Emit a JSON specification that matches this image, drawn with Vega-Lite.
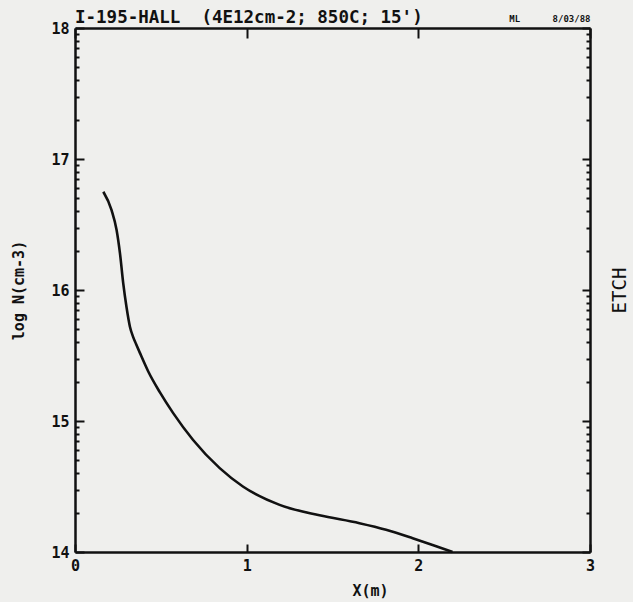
{
  "$schema": "https://vega.github.io/schema/vega-lite/v6.json",
  "width": 515,
  "height": 524,
  "autosize": {"type": "none"},
  "padding": {"left": 75, "top": 28, "right": 43, "bottom": 50},
  "background": "#efefed",
  "title": {
    "text": "I-195-HALL\u00a0\u00a0(4E12cm-2;\u00a0850C;\u00a015')",
    "anchor": "start",
    "frame": "group",
    "font": "DejaVu Sans Mono",
    "fontSize": 17.5,
    "fontWeight": "bold",
    "color": "#111111",
    "offset": -12
  },
  "config": {
    "view": {"stroke": null},
    "axis": {
      "grid": false,
      "domainColor": "#111111",
      "domainWidth": 2.5,
      "tickColor": "#111111",
      "tickWidth": 2,
      "labelColor": "#111111",
      "labelFont": "DejaVu Sans Mono",
      "labelFontWeight": "bold",
      "labelFontSize": 15,
      "titleColor": "#111111",
      "titleFont": "DejaVu Sans Mono",
      "titleFontWeight": "bold",
      "titleFontSize": 15,
      "labelOverlap": false
    }
  },
  "data": {
    "values": [
      {"x": 0.165, "logN": 16.75},
      {"x": 0.213, "logN": 16.61},
      {"x": 0.242, "logN": 16.46},
      {"x": 0.262, "logN": 16.28},
      {"x": 0.281, "logN": 16.05},
      {"x": 0.3, "logN": 15.87},
      {"x": 0.32, "logN": 15.72},
      {"x": 0.339, "logN": 15.64},
      {"x": 0.355, "logN": 15.59},
      {"x": 0.378, "logN": 15.52},
      {"x": 0.426, "logN": 15.38},
      {"x": 0.494, "logN": 15.22},
      {"x": 0.572, "logN": 15.06},
      {"x": 0.688, "logN": 14.855},
      {"x": 0.843, "logN": 14.64},
      {"x": 0.978, "logN": 14.5},
      {"x": 1.192, "logN": 14.36},
      {"x": 1.424, "logN": 14.28},
      {"x": 1.657, "logN": 14.22},
      {"x": 1.812, "logN": 14.17},
      {"x": 1.967, "logN": 14.105},
      {"x": 2.083, "logN": 14.053},
      {"x": 2.199, "logN": 14.0}
    ]
  },
  "layer": [
    {
      "mark": {"type": "line", "color": "#111111", "strokeWidth": 2.6, "interpolate": "monotone"},
      "encoding": {
        "x": {
          "field": "x",
          "type": "quantitative",
          "scale": {"domain": [0, 3], "nice": false, "zero": false},
          "axis": {
            "orient": "bottom",
            "values": [0, 1, 2, 3],
            "format": "d",
            "tickSize": -8,
            "labelPadding": 14,
            "labelFlush": false,
            "title": "X(m)",
            "titlePadding": 10,
            "titleX": 295
          }
        },
        "y": {
          "field": "logN",
          "type": "quantitative",
          "scale": {"domain": [14, 18], "nice": false, "zero": false},
          "axis": {
            "orient": "left",
            "values": [14, 14.301, 14.477, 14.602, 14.699, 14.778, 14.845, 14.903, 14.954,
                       15, 15.301, 15.477, 15.602, 15.699, 15.778, 15.845, 15.903, 15.954,
                       16, 16.301, 16.477, 16.602, 16.699, 16.778, 16.845, 16.903, 16.954,
                       17, 17.301, 17.477, 17.602, 17.699, 17.778, 17.845, 17.903, 17.954, 18],
            "labelExpr": "datum.value % 1 === 0 ? format(datum.value, 'd') : ''",
            "tickSize": {"condition": {"test": "datum.value % 1 === 0", "value": -9}, "value": -4},
            "labelPadding": 15,
            "title": "log N(cm-3)",
            "titlePadding": 24
          }
        }
      }
    },
    {
      "mark": {"type": "line", "opacity": 0},
      "encoding": {
        "x": {
          "field": "x",
          "type": "quantitative",
          "scale": {"domain": [0, 3], "nice": false, "zero": false},
          "axis": {
            "orient": "top",
            "values": [0, 1, 2, 3],
            "labels": false,
            "tickSize": -10,
            "title": "ML\u00a0\u00a0\u00a0\u00a0\u00a0\u00a08/03/88",
            "titleAnchor": "end",
            "titleAlign": "right",
            "titleFontSize": 9,
            "titlePadding": 4
          }
        },
        "y": {
          "field": "logN",
          "type": "quantitative",
          "scale": {"domain": [14, 18], "nice": false, "zero": false},
          "axis": {
            "orient": "right",
            "values": [14, 14.301, 14.477, 14.602, 14.699, 14.778, 14.845, 14.903, 14.954,
                       15, 15.301, 15.477, 15.602, 15.699, 15.778, 15.845, 15.903, 15.954,
                       16, 16.301, 16.477, 16.602, 16.699, 16.778, 16.845, 16.903, 16.954,
                       17, 17.301, 17.477, 17.602, 17.699, 17.778, 17.845, 17.903, 17.954, 18],
            "labels": false,
            "tickSize": {"condition": {"test": "datum.value % 1 === 0", "value": -8}, "value": -4},
            "title": "ETCH",
            "titleAngle": 270,
            "titleFontSize": 19,
            "titleFontWeight": "normal",
            "titlePadding": 38
          }
        }
      }
    }
  ],
  "resolve": {"axis": {"x": "independent", "y": "independent"}}
}
